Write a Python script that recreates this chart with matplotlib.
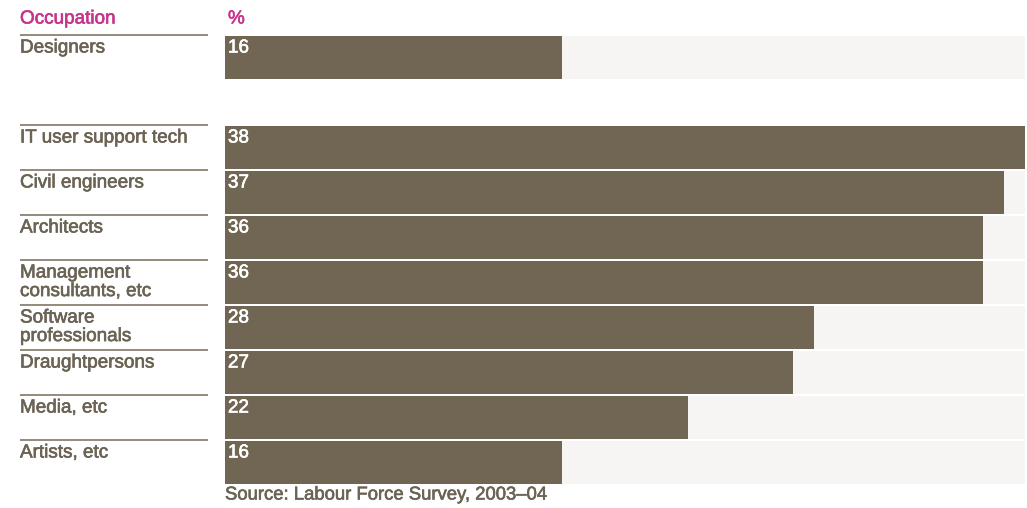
import matplotlib
matplotlib.use("Agg")
import matplotlib.pyplot as plt
import matplotlib.patheffects as pe
from matplotlib.transforms import blended_transform_factory

plt.rcParams['font.family'] = ['Liberation Sans', 'DejaVu Sans']

# Share of workforce (%) by occupation
occupations = ["Designers", "", "IT user support tech", "Civil engineers", "Architects",
               "Management\nconsultants, etc", "Software\nprofessionals", "Draughtpersons",
               "Media, etc", "Artists, etc"]
values = [16, None, 38, 37, 36, 36, 28, 27, 22, 16]
x_max = 38
source = "Source: Labour Force Survey, 2003\u201304"

W, H = 1027, 508
fig = plt.figure(figsize=(W / 100, H / 100), dpi=100)
fig.patch.set_facecolor("white")

left_px, right_px, top_px, bot_px = 225, 1025, 35, 485
ax = fig.add_axes([left_px / W, (H - bot_px) / H, (right_px - left_px) / W, (bot_px - top_px) / H])
ax.set_xlim(0, x_max)
ax.set_ylim(len(occupations) - 0.5, -0.5)
ax.axis("off")

bar_color = "#716654"
track_color = "#f7f5f3"
text_color = "#6b6354"
head_color = "#c7358b"
line_color = "#8c8171"
fs = 13.6


def heavy(color):
    # slightly heavier strokes for the sans text
    return [pe.withStroke(linewidth=0.45, foreground=color)]


bar_h = 0.975
label_tf = blended_transform_factory(fig.transFigure, ax.transData)

for i, (name, v) in enumerate(zip(occupations, values)):
    if v is None:
        continue
    ax.barh(i, x_max, height=bar_h, color=track_color, zorder=1)
    ax.barh(i, v, height=bar_h, color=bar_color, zorder=2)
    ax.text(0.14, i - 0.5 + 0.1, str(v), color="white", fontsize=fs,
            va="top", ha="left", zorder=3, path_effects=heavy("white"))
    # rule above each category label
    ax.plot([20 / W, 208 / W], [i - 0.5, i - 0.5], transform=label_tf,
            color=line_color, lw=1.3, clip_on=False, solid_capstyle="butt")
    ax.text(20 / W, i - 0.5 + 0.1, name, transform=label_tf, color=text_color,
            fontsize=fs, va="top", ha="left", linespacing=1.12, clip_on=False,
            path_effects=heavy(text_color))

fig.text(20 / W, 1 - 19 / H, "Occupation", color=head_color, fontsize=fs, va="center", ha="left",
         path_effects=heavy(head_color))
fig.text(228 / W, 1 - 19 / H, "%", color=head_color, fontsize=fs, va="center", ha="left",
         path_effects=heavy(head_color))
fig.text(225 / W, 1 - 495 / H, source, color=text_color, fontsize=13.3, va="center", ha="left",
         path_effects=heavy(text_color))

fig.savefig("out.png", dpi=100)
